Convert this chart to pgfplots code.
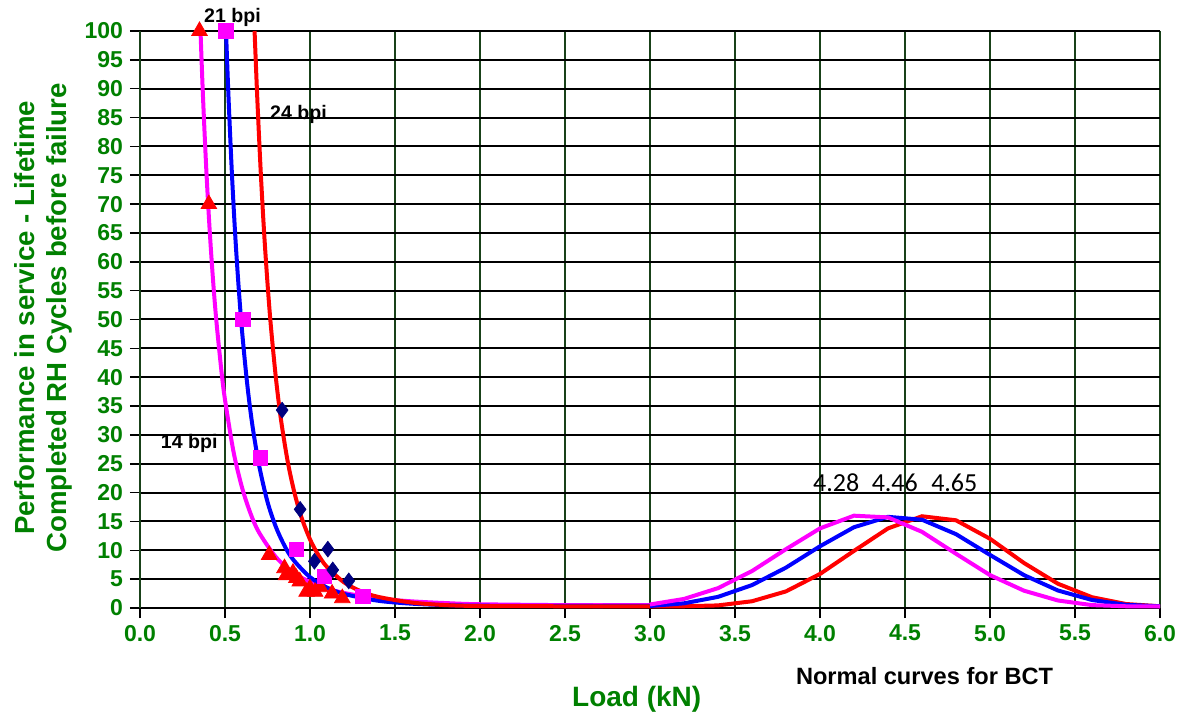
\documentclass[border=0pt]{standalone}
\usepackage{fontspec}
\setmainfont{Liberation Sans}
\newfontfamily\carlito{Carlito}
\usepackage{pgfplots}
\pgfplotsset{compat=1.18}

\definecolor{tgreen}{RGB}{0,128,0}
\definecolor{gridgreen}{RGB}{25,65,25}
\definecolor{navy}{RGB}{0,0,128}
\definecolor{mag}{RGB}{255,0,255}

\begin{document}
\begin{tikzpicture}
% page = 1186 x 718 px, 1 px = 0.5 bp, axis box at px (140..1160, 31..608)
\useasboundingbox (-70bp,-55bp) rectangle (523bp,304bp);
\begin{axis}[
  scale only axis,
  width=510bp, height=288.5bp,
  xmin=0, xmax=6, ymin=0, ymax=100,
  xtick={0,0.5,...,6}, ytick={0,5,...,100},
  axis x line*=bottom, axis y line*=left,
  x axis line style={black, line width=1bp},
  y axis line style={gridgreen, line width=1bp},
  xmajorgrids, ymajorgrids,
  major x grid style={gridgreen, line width=1bp},
  major y grid style={black, line width=1bp},
  tick align=outside, major tick length=5bp,
  tick style={black, line width=0.8bp},
  /pgf/number format/assume math mode=true,
  ticklabel style={text=tgreen, font=\fontsize{11.5bp}{13bp}\selectfont\bfseries},
  xticklabel style={/pgf/number format/.cd, fixed, fixed zerofill, precision=1},
  xlabel={Load (kN)},
  xlabel style={at={(axis description cs:0.487,-0.159)}, anchor=center,
    text=tgreen, font=\fontsize{14bp}{16bp}\selectfont\bfseries},
  ylabel={Performance in service - Lifetime\\Completed RH Cycles before failure},
  ylabel style={at={(axis description cs:-0.095,0.503)}, anchor=center, align=center,
    text=tgreen, font=\fontsize{13.8bp}{16bp}\selectfont\bfseries},
  clip=false,
]
% fitted decay curves
\addplot[mag, line width=2bp, smooth] coordinates {
  (0.356,100) (0.37,89.0) (0.39,76.0) (0.41,65.4) (0.43,56.7) (0.45,49.5)
  (0.48,40.8) (0.5,36.1) (0.55,27.1) (0.6,20.9) (0.65,16.4) (0.7,13.1)
  (0.8,8.81) (0.9,6.19) (1.0,4.51) (1.1,3.39) (1.2,2.61) (1.4,1.64)
  (1.6,1.15) (1.8,0.85) (2.0,0.65) (2.5,0.5) (3.0,0.5)
};
\addplot[blue, line width=2bp, smooth] coordinates {
  (0.506,100) (0.52,89.0) (0.54,75.7) (0.56,64.7) (0.58,55.7) (0.60,48.1)
  (0.63,39.0) (0.66,31.9) (0.70,24.8) (0.75,18.4) (0.80,14.0) (0.85,10.8)
  (0.90,8.42) (1.0,5.35) (1.1,3.55) (1.2,2.44) (1.4,1.26) (1.6,0.75)
  (1.8,0.5) (2.0,0.4) (2.5,0.35) (3.0,0.35)
};
\addplot[red, line width=2bp, smooth] coordinates {
  (0.674,100) (0.69,88.3) (0.71,75.7) (0.73,65.1) (0.75,56.3) (0.77,48.8)
  (0.80,39.7) (0.83,32.5) (0.87,25.2) (0.91,19.8) (0.95,15.7) (1.0,11.9)
  (1.05,9.14) (1.1,7.11) (1.2,4.45) (1.3,2.89) (1.4,1.93) (1.6,0.94)
  (1.8,0.50) (2.0,0.35) (2.5,0.3) (3.0,0.3)
};
% normal curves for BCT
\addplot[red, line width=2bp] coordinates {
  (3.0,0.3) (3.2,0.3) (3.4,0.45) (3.6,1.17) (3.8,2.88) (4.0,5.9)
  (4.2,9.9) (4.4,13.8) (4.6,15.9) (4.8,15.2) (5.0,12.0) (5.2,7.8)
  (5.4,4.2) (5.6,1.87) (5.8,0.69) (6.0,0.3)
};
\addplot[blue, line width=2bp] coordinates {
  (3.0,0.35) (3.2,0.81) (3.4,1.93) (3.6,3.97) (3.8,7.0) (4.0,10.7)
  (4.2,14.0) (4.4,15.8) (4.6,15.3) (4.8,12.8) (5.0,9.2) (5.2,5.7)
  (5.4,3.03) (5.6,1.39) (5.8,0.55) (6.0,0.3)
};
\addplot[mag, line width=2bp] coordinates {
  (3.0,0.61) (3.2,1.57) (3.4,3.44) (3.6,6.4) (3.8,10.2) (4.0,13.8)
  (4.2,16.0) (4.4,15.7) (4.6,13.2) (4.8,9.4) (5.0,5.7) (5.2,3.0)
  (5.4,1.3) (5.6,0.5) (5.8,0.3) (6.0,0.3)
};
% measured points
\addplot[only marks, mark=triangle*, mark size=4.5bp, red] coordinates {
  (0.35,100) (0.405,70) (0.76,9.2) (0.85,6.9) (0.86,5.7) (0.90,6.1)
  (0.92,5.2) (0.94,4.6) (0.98,2.8) (1.00,3.4) (1.03,2.8) (1.06,3.6)
  (1.13,2.5) (1.19,1.7)
};
\addplot[only marks, mark=square*, mark size=3.6bp, mag] coordinates {
  (0.506,100) (0.605,50) (0.709,26) (0.919,10.2) (1.085,5.5) (1.31,2.0)
};
\addplot[only marks, mark=diamond*, mark size=3.9bp, navy] coordinates {
  (0.836,34.3) (0.942,17.1) (1.026,8.1) (1.105,10.2) (1.134,6.6) (1.228,4.7)
};
% annotations
\begin{scope}[every node/.style={font=\fontsize{9.8bp}{11bp}\selectfont\bfseries}]
\node at (axis cs:0.544,102.3) {21 bpi};
\node at (axis cs:0.932,85.6) {24 bpi};
\node at (axis cs:0.29,28.6) {14 bpi};
\end{scope}
\begin{scope}[every node/.style={font=\carlito\fontsize{13bp}{15bp}\selectfont}]
\node at (axis cs:4.095,21.7) {4.28};
\node at (axis cs:4.44,21.7) {4.46};
\node at (axis cs:4.79,21.7) {4.65};
\end{scope}
\node[font=\fontsize{11.8bp}{13bp}\selectfont\bfseries] at (axis cs:4.615,-11.8) {Normal curves for BCT};
\end{axis}
\end{tikzpicture}
\end{document}
